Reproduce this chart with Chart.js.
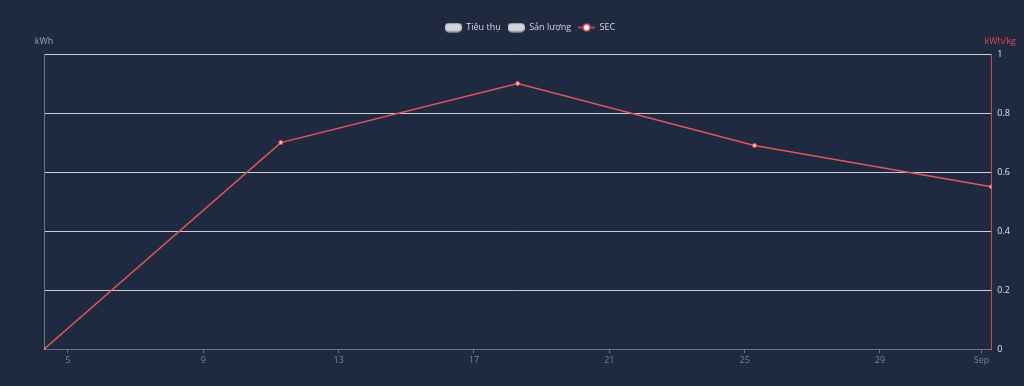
<!DOCTYPE html>
<html>
<head>
<meta charset="utf-8">
<script src="https://cdn.jsdelivr.net/npm/chart.js@4/dist/chart.umd.min.js"></script>
<style>
  html, body { margin: 0; padding: 0; background: #1f2940; }
  #wrap { width: 1024px; height: 386px; position: relative; }
</style>
</head>
<body>
<div id="wrap"><canvas id="chart"></canvas></div>
<script>
// Weekly points (local time of the source dashboard)
const pointDates = ['2024-08-04T07:00', '2024-08-11T07:00', '2024-08-18T07:00', '2024-08-25T07:00', '2024-09-01T07:00'];
const tieuThu = [null, null, null, null, null];
const sanLuong = [null, null, null, null, null];
const sec = [0, 0.7, 0.9, 0.69, 0.55];

const tickDates = ['2024-08-05', '2024-08-09', '2024-08-13', '2024-08-17', '2024-08-21', '2024-08-25', '2024-08-29', '2024-09-01'];
const tickLabels = ['5', '9', '13', '17', '21', '25', '29', 'Sep'];

const FONT = "'Open Sans', 'Noto Sans', sans-serif";
const RED = '#e0565c';

// day number counted from Aug 1 (Aug 1 = 1, Sep 1 = 32)
const origin = Date.parse('2024-08-01T00:00Z');
const toDay = s => (Date.parse((s.length > 10 ? s : s + 'T00:00') + 'Z') - origin) / 864e5 + 1;

const xs = pointDates.map(toDay);
const tickDays = tickDates.map(toDay);

function makeIcon(kind) {
    const c = document.createElement('canvas');
    c.width = 17; c.height = 10;
    const g = c.getContext('2d');
    if (kind === 'box') {
        g.fillStyle = '#d2d4d8';
        g.strokeStyle = '#bfc2c8';
        g.beginPath();
        g.roundRect(0.5, 1, 16, 8, 3);
        g.fill();
        g.stroke();
    } else {
        g.strokeStyle = RED;
        g.lineWidth = 1.5;
        g.beginPath();
        g.moveTo(0, 5); g.lineTo(17, 5);
        g.stroke();
        g.fillStyle = '#ffffff';
        g.beginPath();
        g.arc(8.5, 5, 3.3, 0, Math.PI * 2);
        g.fill();
        g.stroke();
    }
    return c;
}

const axisTitles = {
    id: 'axisTitles',
    afterInit(chart) {
        const fit = chart.legend.fit;
        chart.legend.fit = function () {
            fit.call(this);
            this.height += 12;
        };
    },
    afterDraw(chart) {
        const ctx = chart.ctx;
        const area = chart.chartArea;
        ctx.save();
        ctx.font = '9px ' + FONT;
        ctx.textBaseline = 'middle';
        ctx.fillStyle = '#9aa1ad';
        ctx.textAlign = 'center';
        ctx.fillText('kWh', area.left, area.top - 13);
        ctx.fillStyle = '#e0484f';
        ctx.textAlign = 'right';
        ctx.fillText('kWh/kg', chart.width - 8, area.top - 13);
        ctx.restore();
    }
};

new Chart(document.getElementById('chart'), {
    data: {
        datasets: [
            {
                type: 'bar', label: 'Tiêu thụ', yAxisID: 'y',
                data: xs.map((x, i) => ({ x, y: tieuThu[i] })),
                backgroundColor: '#d2d4d8', legendIcon: makeIcon('box')
            },
            {
                type: 'bar', label: 'Sản lượng', yAxisID: 'y',
                data: xs.map((x, i) => ({ x, y: sanLuong[i] })),
                backgroundColor: '#d2d4d8', legendIcon: makeIcon('box')
            },
            {
                type: 'line', label: 'SEC', yAxisID: 'y1',
                data: xs.map((x, i) => ({ x, y: sec[i] })),
                borderColor: RED, borderWidth: 1.5,
                backgroundColor: '#ffb3b6',
                pointStyle: 'circle',
                pointRadius: 2, pointBorderWidth: 1, pointBorderColor: RED,
                legendIcon: makeIcon('line'), tension: 0
            }
        ]
    },
    options: {
        responsive: true,
        maintainAspectRatio: false,
        animation: false,
        layout: { padding: { top: 16, left: 44, right: 8, bottom: 18 } },
        plugins: {
            legend: {
                position: 'top',
                labels: {
                    color: '#d4d7dd',
                    font: { family: FONT, size: 9 },
                    usePointStyle: true,
                    pointStyleWidth: 17,
                    boxHeight: 9,
                    padding: 7,
                    generateLabels(chart) {
                        return chart.data.datasets.map((ds, i) => ({
                            text: ds.label,
                            pointStyle: ds.legendIcon,
                            fontColor: '#d4d7dd',
                            hidden: false,
                            datasetIndex: i,
                            lineWidth: 0
                        }));
                    }
                }
            },
            tooltip: { enabled: false }
        },
        scales: {
            x: {
                type: 'linear',
                offset: false,
                min: xs[0],
                max: xs[xs.length - 1],
                afterBuildTicks(scale) {
                    scale.ticks = tickDays.map(v => ({ value: v }));
                },
                ticks: {
                    autoSkip: false,
                    maxRotation: 0,
                    color: '#7b8391',
                    font: { family: FONT, size: 9 },
                    padding: 2,
                    callback: (v, i) => tickLabels[i]
                },
                grid: { drawOnChartArea: false, drawTicks: true, tickLength: 4, color: '#6b7384', offset: false },
                border: { color: '#6b7384' }
            },
            y: {
                position: 'left',
                min: 0, max: 1,
                ticks: { display: false },
                grid: { drawOnChartArea: false, drawTicks: false },
                border: { color: '#6b7384' }
            },
            y1: {
                position: 'right',
                min: 0, max: 1,
                ticks: {
                    stepSize: 0.2,
                    color: '#dfe3ea',
                    font: { family: FONT, size: 9 },
                    padding: 6,
                    callback: v => String(+v.toFixed(1))
                },
                grid: { drawTicks: false, color: '#c9cdd4', lineWidth: 1 },
                border: { color: '#b9515a' }
            }
        }
    },
    plugins: [axisTitles]
});
</script>
</body>
</html>
